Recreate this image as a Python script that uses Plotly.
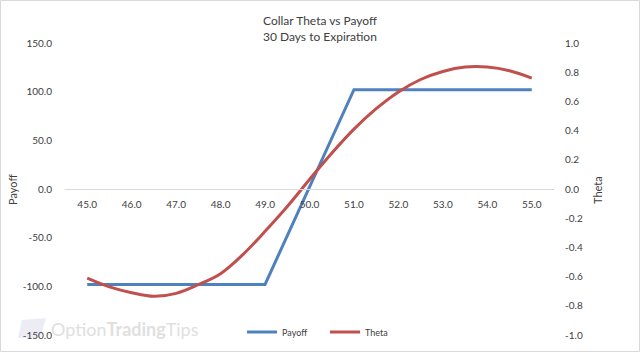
import plotly.graph_objects as go

# Data
payoff_x = [45, 49, 51, 55]
payoff_y = [-98, -98, 102, 102]

theta_x = [45, 45.5, 46, 46.5, 47, 47.5, 48, 48.5, 49, 49.5, 50, 50.5, 51, 51.5, 52, 52.5, 53, 53.5, 54, 54.5, 55]
theta_y = [-0.61, -0.67, -0.71, -0.735, -0.715, -0.655, -0.58, -0.45, -0.29, -0.12, 0.065,
           0.245, 0.41, 0.55, 0.665, 0.75, 0.805, 0.835, 0.835, 0.81, 0.76]

x_ticks = [45, 46, 47, 48, 49, 50, 51, 52, 53, 54, 55]
x_tick_text = ["45.0", "46.0", "47.0", "48.0", "49.0", "50.0", "51.0", "52.0", "53.0", "54.0", "55.0"]
y_ticks = [-150, -100, -50, 0, 50, 100, 150]
y_tick_text = ["-150.0", "-100.0", "-50.0", "0.0", "50.0", "100.0", "150.0"]
y2_ticks = [-1.0, -0.8, -0.6, -0.4, -0.2, 0.0, 0.2, 0.4, 0.6, 0.8, 1.0]
y2_tick_text = ["-1.0", "-0.8", "-0.6", "-0.4", "-0.2", "0.0", "0.2", "0.4", "0.6", "0.8", "1.0"]

BLUE = "#4F81BD"
RED = "#C0504D"
FONT = "Lato"
TXT = "#404040"

W, H = 640, 352
L, R, T, B = 65, 86, 43, 17
PW = W - L - R
PH = H - T - B

def px_x(p):
    return (p - L) / PW

def px_y(p):
    return (H - B - p) / PH

fig = go.Figure()
fig.add_trace(go.Scatter(x=payoff_x, y=payoff_y, mode="lines", name="Payoff",
                         line=dict(color=BLUE, width=3), yaxis="y"))
fig.add_trace(go.Scatter(x=theta_x, y=theta_y, mode="lines", name="Theta",
                         line=dict(color=RED, width=3, shape="spline", smoothing=1.0), yaxis="y2"))

fig.update_layout(
    width=W, height=H,
    margin=dict(l=L, r=R, t=T, b=B, pad=0, autoexpand=False),
    paper_bgcolor="white", plot_bgcolor="white",
    font=dict(family=FONT, size=10, color=TXT),
    xaxis=dict(range=[44.5, 55.5], tickvals=x_ticks, ticktext=x_tick_text,
               showgrid=False, zeroline=False, showline=True, linecolor="#D9D9D9", linewidth=1,
               anchor="free", position=0.5, ticks="", ticklabelstandoff=6,
               tickfont=dict(family=FONT, size=10, color=TXT), fixedrange=True),
    yaxis=dict(range=[-150, 150], tickvals=y_ticks, ticktext=y_tick_text,
               showgrid=False, zeroline=False, showline=False, ticks="", ticklabelstandoff=12,
               tickfont=dict(family=FONT, size=10, color=TXT)),
    yaxis2=dict(range=[-1, 1], tickvals=y2_ticks, ticktext=y2_tick_text, overlaying="y", side="right",
                showgrid=False, zeroline=False, showline=False, ticks="", ticklabelstandoff=10,
                tickfont=dict(family=FONT, size=10, color=TXT)),
    legend=dict(orientation="h", x=px_x(242), xanchor="left", y=px_y(332), yanchor="middle",
                font=dict(family=FONT, size=9, color=TXT), bgcolor="rgba(0,0,0,0)",
                itemwidth=30, tracegroupgap=0, entrywidth=38, entrywidthmode="pixels"),
    showlegend=True,
)

# title (two lines)
fig.add_annotation(text="Collar Theta vs Payoff", xref="paper", yref="paper",
                   x=px_x(320), y=px_y(20), xanchor="center", yanchor="middle",
                   showarrow=False, font=dict(family=FONT, size=12, color=TXT))
fig.add_annotation(text="30 Days to Expiration", xref="paper", yref="paper",
                   x=px_x(320), y=px_y(36), xanchor="center", yanchor="middle",
                   showarrow=False, font=dict(family=FONT, size=12, color=TXT))

fig.add_annotation(text="Payoff", textangle=-90, xref="paper", yref="paper",
                   x=px_x(12), y=px_y(190), xanchor="center", yanchor="middle",
                   showarrow=False, font=dict(family=FONT, size=11, color=TXT))
fig.add_annotation(text="Theta", textangle=-90, xref="paper", yref="paper",
                   x=px_x(597), y=px_y(190), xanchor="center", yanchor="middle",
                   showarrow=False, font=dict(family=FONT, size=11, color=TXT))

# watermark
fig.add_annotation(text="Option<b>Trading</b>Tips", xref="paper", yref="paper",
                   x=px_x(49), y=px_y(329), xanchor="left", yanchor="middle",
                   showarrow=False, font=dict(family=FONT, size=18, color="#E0E0E0"))
fig.add_shape(type="path", xref="paper", yref="paper",
              path="M {} {} L {} {} L {} {} L {} {} Z".format(px_x(18), px_y(338), px_x(22), px_y(320),
                                                        px_x(46), px_y(318), px_x(40), px_y(338)),
              fillcolor="#ECECF4", line=dict(width=0), layer="below")

# outer border
fig.add_shape(type="rect", xref="paper", yref="paper",
              x0=px_x(0.5), x1=px_x(W - 0.5), y0=px_y(H - 0.5), y1=px_y(0.5),
              line=dict(color="#D9D9D9", width=1), fillcolor="rgba(0,0,0,0)")

fig.write_html("out.html")
